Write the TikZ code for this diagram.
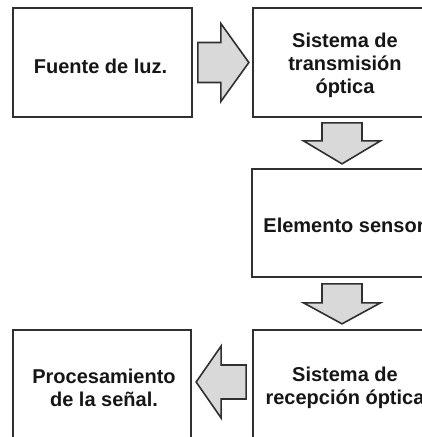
\documentclass[tikz,border=0pt]{standalone}
\usepackage{fontspec}
\setmainfont{Liberation Sans}
\usepackage{xcolor}
\usetikzlibrary{calc}

\definecolor{linea}{HTML}{303030}
\definecolor{relleno}{HTML}{D9D9D9}
\definecolor{texto}{HTML}{161616}

\tikzset{
  caja/.style={draw=linea,line width=1.7pt,fill=white,minimum width=179pt,minimum height=109pt,inner sep=0pt},
  rotulo/.style={align=center,text=texto,inner sep=0pt,font=\fontsize{20}{23}\selectfont\bfseries},
  flecha/.style={draw=linea,fill=relleno,line width=1.6pt,line join=miter}
}

% flecha de bloque: inicio, angulo, largo, largo de punta, semiancho, semiancho de punta
\newcommand{\flechabloque}[6]{%
  \begin{scope}[shift={#1},rotate=#2]
    \draw[flecha] (0,-#5) -- ({#3-#4},-#5) -- ({#3-#4},-#6) -- (#3,0) -- ({#3-#4},#6) -- ({#3-#4},#5) -- (0,#5) -- cycle;
  \end{scope}}

\begin{document}
\begin{tikzpicture}[x=1pt,y=-1pt]
\useasboundingbox (0,0) rectangle (422,437);
\clip (0,0) rectangle (422,437);
\fill[white] (0,0) rectangle (422,437);

\node[caja,label={[rotulo,xshift=-2pt,yshift=-4pt]center:Fuente de luz.}] (fuente) at (102.5,62.5) {};
\node[caja,minimum width=184pt,label={[rotulo,yshift=-3pt]center:Sistema de\\transmisión\\óptica}] (transmision) at (345,62.5) {};
\node[caja,minimum width=184pt,minimum height=108pt,label={[rotulo,yshift=-2pt]center:Elemento sensor}] (sensor) at (344,223) {};
\node[caja,minimum width=184pt,label={[rotulo,yshift=-3pt]center:Sistema de\\recepción óptica}] (recepcion) at (345,384.5) {};
\node[caja,minimum width=178pt,label={[rotulo,xshift=2pt,yshift=-3pt]center:Procesamiento\\de la señal.}] (procesamiento) at (102,384.5) {};

\flechabloque{($(fuente.east)+(5,0)$)}{0}{51}{28}{20}{39}
\flechabloque{($(transmision.south)+(-3,5)$)}{-90}{41}{23}{20}{38.5}
\flechabloque{($(sensor.south)+(-2,6)$)}{-90}{40}{21}{20}{38.5}
\flechabloque{($(recepcion.west)+(-6,-2.5)$)}{180}{50}{25}{17}{36}
\end{tikzpicture}
\end{document}
